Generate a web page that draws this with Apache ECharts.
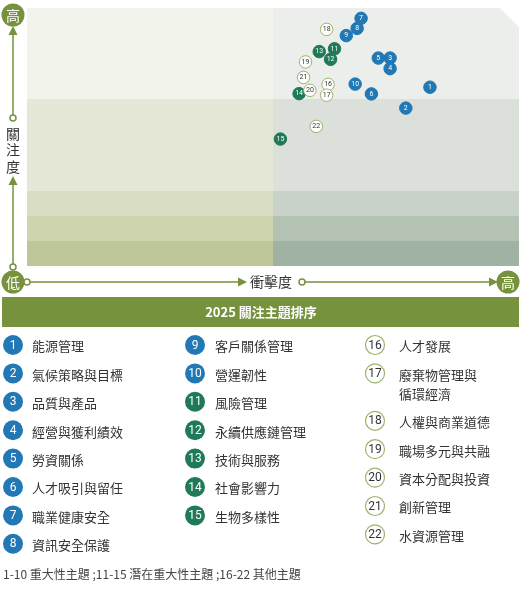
<!DOCTYPE html>
<html>
<head>
<meta charset="utf-8">
<script src="https://cdn.jsdelivr.net/npm/echarts@6/dist/echarts.min.js"></script>
<style>
  html, body { margin: 0; padding: 0; background: #fff; }
  #chart { width: 529px; height: 592px; }
</style>
</head>
<body>
<div id="chart"></div>
<script>
// ---- data ----
const TOPIC_IDS = [1, 2, 3, 4, 5, 6, 7, 8, 9, 10, 11, 12, 13, 14, 15, 16, 17, 18, 19, 20, 21, 22]
const TOPIC_NAMES = [
  '能源管理', '氣候策略與目標', '品質與產品', '經營與獲利績效', '勞資關係',
  '人才吸引與留任', '職業健康安全', '資訊安全保護', '客戶關係管理', '營運韌性',
  '風險管理', '永續供應鏈管理', '技術與服務', '社會影響力', '生物多樣性',
  '人才發展', '廢棄物管理與\n循環經濟', '人權與商業道德', '職場多元與共融',
  '資本分配與投資', '創新管理', '水資源管理',
]
// 衝擊度 (x) and 關注度 (y), 0-100
const IMPACT = [81.9, 77.0, 73.8, 73.8, 71.4, 70.0, 67.9, 67.1, 64.9, 66.7,
  62.5, 61.7, 59.4, 55.3, 51.5, 61.2, 60.9, 60.9, 56.6, 57.5, 56.2, 58.8]
const CONCERN = [69.3, 61.2, 80.6, 76.5, 80.6, 66.7, 96.0, 92.1, 89.3, 70.5,
  84.2, 80.1, 83.1, 66.8, 49.2, 70.4, 66.2, 91.7, 79.1, 68.1, 73.1, 54.1]
// group ranges: 1-10 major, 11-15 potential, 16-22 other
const GROUPS = [[1, 10], [11, 15], [16, 22]]
// background zones
const X_SPLITS = [0, 50, 100]
const Y_SPLITS = [0, 9.7, 19.4, 29.1, 64.7, 100]
const FOOTNOTE = '1-10 重大性主題 ;11-15 潛在重大性主題 ;16-22 其他主題'

// ---- styles ----
const GREEN = '#76923c'
const BLUE = '#2178b4'
const DARK_GREEN = '#1f7a57'
const RING = '#9bb46c'
const FONT = '"Noto Sans CJK TC", "Noto Sans", sans-serif'
// zone colours, bottom to top; left column then right column
const ZONE_COLORS = [
  ['#bec799', '#cdd4ae', '#dadec4', '#e5e8d6', '#f2f3ea'],
  ['#a0b2a3', '#b3c2b3', '#c8d2c8', '#dbe0da', '#eceeeb'],
]
const GROUP_STYLE = [
  { fill: BLUE, border: BLUE, text: '#fff' },
  { fill: DARK_GREEN, border: DARK_GREEN, text: '#fff' },
  { fill: '#fff', border: RING, text: '#333' },
]

const zones = []
for (let c = 0; c < X_SPLITS.length - 1; c++) {
  for (let r = 0; r < Y_SPLITS.length - 1; r++) {
    zones.push([X_SPLITS[c], Y_SPLITS[r], X_SPLITS[c + 1], Y_SPLITS[r + 1], c, r])
  }
}

const pointsFor = ([from, to]) =>
  TOPIC_IDS.filter((id) => id >= from && id <= to).map((id) => [IMPACT[id - 1], CONCERN[id - 1], id])

const scatterSeries = GROUPS.map((range, g) => ({
  type: 'scatter',
  data: pointsFor(range),
  symbolSize: 12.5,
  z: 5,
  itemStyle: {
    color: GROUP_STYLE[g].fill,
    borderColor: GROUP_STYLE[g].border,
    borderWidth: 1,
    opacity: 1,
  },
  label: {
    show: true,
    position: 'inside',
    formatter: (p) => String(p.data[2]),
    fontSize: 7,
    fontFamily: 'Roboto, sans-serif',
    color: GROUP_STYLE[g].text,
  },
  emphasis: { disabled: true },
}))

// ---- axis decorations ----
const graphicEls = []
const badge = (x, y, text) => {
  graphicEls.push({ type: 'circle', shape: { cx: x, cy: y, r: 11.5 }, style: { fill: GREEN } })
  graphicEls.push({
    type: 'text', x: x, y: y + 0.5,
    style: { text: text, fill: '#fff', font: `14px ${FONT}`, align: 'center', verticalAlign: 'middle' },
  })
}
const line = (x1, y1, x2, y2) =>
  graphicEls.push({ type: 'line', shape: { x1, y1, x2, y2 }, style: { stroke: GREEN, lineWidth: 1.5 } })
const dot = (x, y) =>
  graphicEls.push({ type: 'circle', shape: { cx: x, cy: y, r: 3 }, style: { fill: '#fff', stroke: GREEN, lineWidth: 1.5 } })
const arrowUp = (x, y) =>
  graphicEls.push({ type: 'polygon', shape: { points: [[x, y], [x - 4.5, y + 9], [x + 4.5, y + 9]] }, style: { fill: GREEN } })
const arrowRight = (x, y) =>
  graphicEls.push({ type: 'polygon', shape: { points: [[x, y], [x - 9, y - 4.5], [x - 9, y + 4.5]] }, style: { fill: GREEN } })

// vertical axis
line(13, 34, 13, 115)
arrowUp(13, 26)
dot(13, 118)
line(13, 184, 13, 264)
arrowUp(13, 176)
dot(13, 267)
graphicEls.push({
  type: 'text', x: 13, y: 150,
  style: { text: '關\n注\n度', fill: '#333', font: `14px ${FONT}`, lineHeight: 16.5, align: 'center', verticalAlign: 'middle' },
})
badge(13, 15, '高')
badge(13, 282, '低')

// horizontal axis
dot(27, 282)
line(30, 282, 239, 282)
arrowRight(247, 282)
graphicEls.push({
  type: 'text', x: 271, y: 282,
  style: { text: '衝擊度', fill: '#333', font: `14px ${FONT}`, align: 'center', verticalAlign: 'middle' },
})
dot(302, 282)
line(305, 282, 490, 282)
arrowRight(498, 282)
badge(508, 282, '高')

// ---- ranking list ----
graphicEls.push({ type: 'rect', shape: { x: 2, y: 297, width: 517, height: 30 }, style: { fill: GREEN } })
graphicEls.push({
  type: 'text', x: 261, y: 312,
  style: { text: '2025 關注主題排序', fill: '#fff', font: `bold 13px ${FONT}`, align: 'center', verticalAlign: 'middle' },
})

const COLUMNS = [
  { ids: [1, 8], cx: 13, tx: 32 },
  { ids: [9, 15], cx: 195, tx: 215 },
  { ids: [16, 22], cx: 375, tx: 399 },
]
COLUMNS.forEach((col) => {
  let y = 345
  for (let id = col.ids[0]; id <= col.ids[1]; id++) {
    const g = GROUPS.findIndex(([a, b]) => id >= a && id <= b)
    const st = GROUP_STYLE[g]
    graphicEls.push({
      type: 'circle', shape: { cx: col.cx, cy: y, r: g === 2 ? 9.5 : 10 },
      style: { fill: st.fill, stroke: st.border, lineWidth: g === 2 ? 1.2 : 0 },
    })
    graphicEls.push({
      type: 'text', x: col.cx, y: y + 0.5,
      style: { text: String(id), fill: st.text, font: `12px Roboto, sans-serif`, align: 'center', verticalAlign: 'middle' },
    })
    const name = TOPIC_NAMES[id - 1]
    graphicEls.push({
      type: 'text', x: col.tx, y: y - 8,
      style: { text: name, fill: '#333', font: `13px ${FONT}`, lineHeight: 19, verticalAlign: 'top' },
    })
    y += 28.4 + (name.split('\n').length - 1) * 19
  }
})

graphicEls.push({
  type: 'text', x: 3, y: 574,
  style: { text: FOOTNOTE, fill: '#444', font: `12px ${FONT}`, verticalAlign: 'middle' },
})

const chart = echarts.init(document.getElementById('chart'))
chart.setOption({
  animation: false,
  grid: { left: 27, top: 8, width: 492, height: 258 },
  xAxis: { type: 'value', min: 0, max: 100, show: false },
  yAxis: { type: 'value', min: 0, max: 100, show: false },
  series: [
    {
      type: 'custom',
      data: zones,
      encode: { x: [0, 2], y: [1, 3] },
      z: 1,
      silent: true,
      renderItem: (params, api) => {
        const p0 = api.coord([api.value(0), api.value(1)])
        const p1 = api.coord([api.value(2), api.value(3)])
        return {
          type: 'rect',
          shape: { x: p0[0], y: p1[1], width: p1[0] - p0[0], height: p0[1] - p1[1] },
          style: { fill: ZONE_COLORS[api.value(4)][api.value(5)] },
        }
      },
    },
    {
      // cut-off corner at the top right
      type: 'custom',
      data: [[95.9, 92.2]],
      z: 2,
      silent: true,
      renderItem: (params, api) => {
        const a = api.coord([api.value(0), 100])
        const b = api.coord([100, 100])
        const c = api.coord([100, api.value(1)])
        return {
          type: 'polygon',
          shape: { points: [[a[0], a[1] - 1], [b[0] + 1, b[1] - 1], [c[0] + 1, c[1]]] },
          style: { fill: '#fff' },
        }
      },
    },
    ...scatterSeries,
  ],
  graphic: graphicEls,
})
</script>
</body>
</html>
